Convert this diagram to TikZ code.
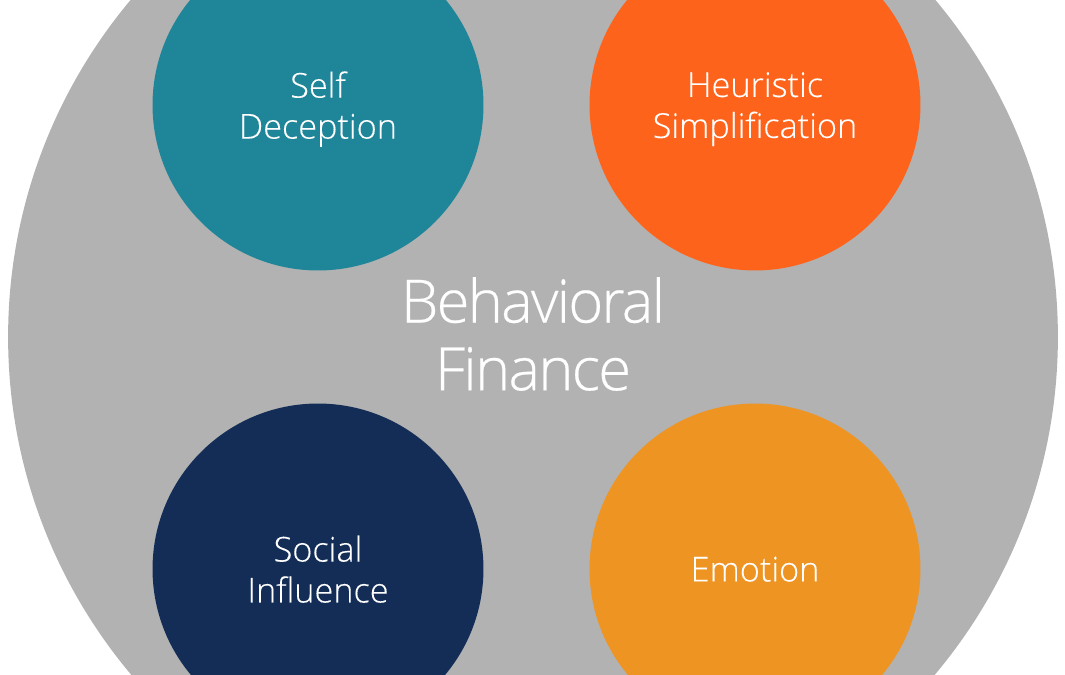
\documentclass[tikz,border=0pt]{standalone}
\usepackage{fontspec}
\setmainfont{Open Sans}[UprightFont=* Light, FakeBold=0.25]
\newfontfamily\titlefont{Open Sans}[UprightFont=* Light, LetterSpace=-3.0, FakeBold=0.35]
\usepackage{tikz}

\definecolor{ringgray}{RGB}{178,178,178}
\definecolor{selfteal}{RGB}{31,133,153}
\definecolor{heurorange}{RGB}{253,99,27}
\definecolor{socialnavy}{RGB}{19,45,87}
\definecolor{emotionamber}{RGB}{238,148,34}

\tikzset{
  topic/.style={circle, minimum size=6.62cm, inner sep=0pt, text=white, align=center,
    text depth=0pt, font=\fontsize{19.5}{23.3}\selectfont},
}

\begin{document}
\begin{tikzpicture}[x=.02cm, y=-.02cm]
\useasboundingbox (0, 0) rectangle (1065, 675);
\clip (0, 0) rectangle (1065, 675);
\fill [ringgray] (533, 337) circle (10.5cm);
\node (self) [topic, fill=selfteal] at (318, 105) {Self\\Deception};
\node (heuristic) [topic, fill=heurorange] at (755, 105) {Heuristic\\Simplification};
\node (social) [topic, fill=socialnavy] at (318, 569) {Social\\Influence};
\node (emotion) [topic, fill=emotionamber] at (755, 569) {Emotion};
\node (finance) [text=white, align=center, font=\titlefont\fontsize{34}{38.5}\selectfont] at (533, 334) {Behavioral\\Finance};
\end{tikzpicture}
\end{document}
